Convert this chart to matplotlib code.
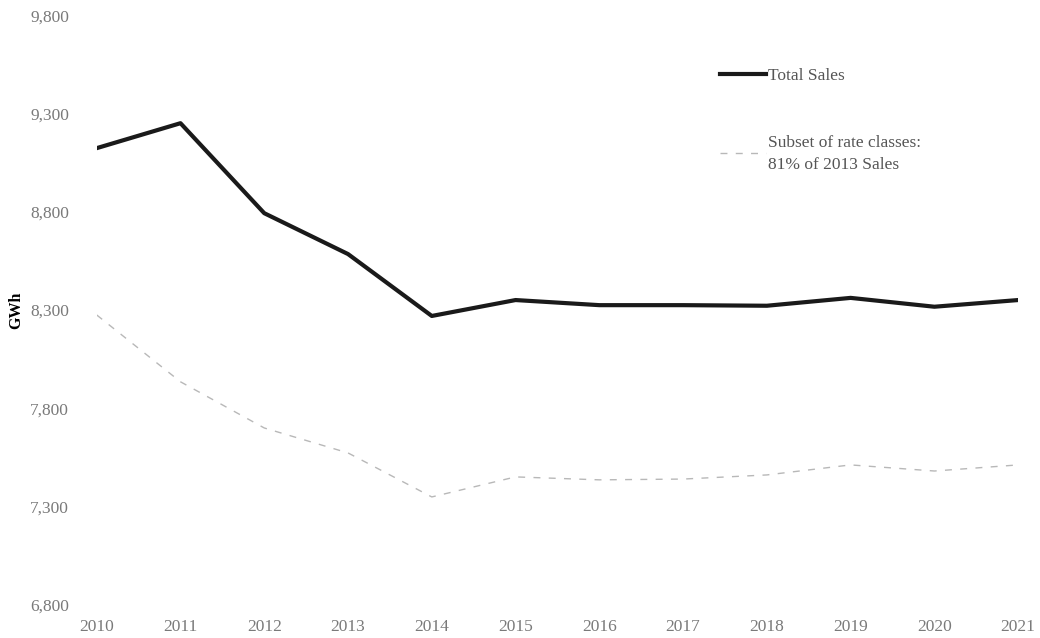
import matplotlib.pyplot as plt
import matplotlib.ticker as mticker

# data (GWh)
years = [2010, 2011, 2012, 2013, 2014, 2015, 2016, 2017, 2018, 2019, 2020, 2021]
total_sales = [9124, 9251, 8793, 8585, 8270, 8351, 8325, 8325, 8322, 8362, 8317, 8351]
subset_sales = [8275, 7935, 7700, 7573, 7349, 7451, 7436, 7440, 7461, 7512, 7481, 7512]

y_ticks = [6800, 7300, 7800, 8300, 8800, 9300, 9800]

plt.rcParams['font.family'] = ['Liberation Serif', 'DejaVu Serif']

fig = plt.figure(figsize=(10.4, 6.38), dpi=100)
ax = fig.add_axes([0.093, 0.052, 0.886, 0.924])

ax.plot(years, total_sales, color='#1a1a1a', lw=3, label='Total Sales')
ax.plot(years, subset_sales, color='#b8b8b8', lw=1, ls=(0, (5, 6)),
        label='Subset of rate classes:\n81% of 2013 Sales')

ax.set_xlim(2010, 2021)
ax.set_ylim(6800, 9800)
ax.set_xticks(years)
ax.set_yticks(y_ticks)
ax.yaxis.set_major_formatter(mticker.StrMethodFormatter('{x:,.0f}'))

for s in ax.spines.values():
    s.set_visible(False)
ax.tick_params(length=0, colors='#7a7a7a', labelsize=12.5)
ax.tick_params(axis='x', pad=10)
ax.tick_params(axis='y', pad=20)

ax.set_ylabel('GWh', fontweight='bold', fontsize=11.5, labelpad=4)

leg = ax.legend(loc='upper left', bbox_to_anchor=(0.66, 0.937), frameon=False,
                fontsize=12.5, handlelength=2.6, handletextpad=0.15,
                labelspacing=2.9, labelcolor='#555555')
for t in leg.get_texts():
    t.set_linespacing(1.5)

fig.savefig('out.png', dpi=100)
